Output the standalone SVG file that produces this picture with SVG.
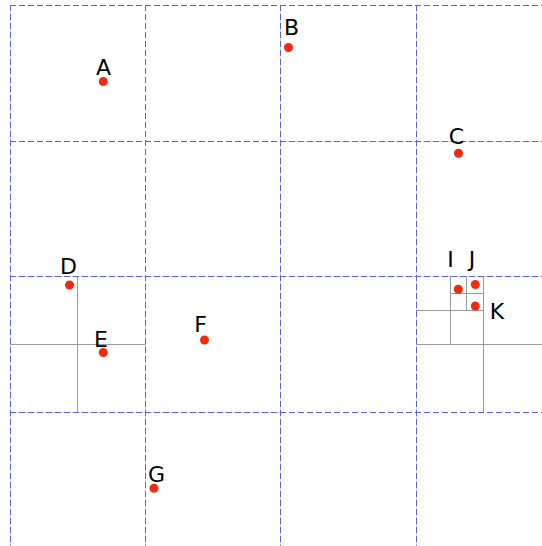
<svg xmlns="http://www.w3.org/2000/svg" width="542" height="546" viewBox="0 0 542 546">
<style>
.u{stroke:#d4d4d4;stroke-width:1;fill:none}
.q{stroke:#999;stroke-width:1;fill:none}
.g{stroke:#5a62dc;stroke-width:1;stroke-dasharray:6,3;fill:none}
.p{fill:#f02a10}
.t{font-family:"DejaVu Sans",sans-serif;font-size:22px;fill:#000;text-anchor:middle}
</style>
<rect width="542" height="546" fill="#fff"/>
<g id="quadtree">
<line class="u" x1="10.5" y1="5" x2="10.5" y2="546"/>
<line class="u" x1="280.5" y1="5" x2="280.5" y2="546"/>
<line class="u" x1="10" y1="276.5" x2="542" y2="276.5"/>
<line class="u" x1="416.5" y1="5" x2="416.5" y2="546"/>
<line class="u" x1="281" y1="141.5" x2="542" y2="141.5"/>
<line class="u" x1="145.5" y1="276" x2="145.5" y2="546"/>
<line class="u" x1="10" y1="412.5" x2="281" y2="412.5"/>
<line class="q" x1="77.5" y1="276" x2="77.5" y2="412"/>
<line class="q" x1="10" y1="344.5" x2="145.5" y2="344.5"/>
<line class="q" x1="483.5" y1="276" x2="483.5" y2="412"/>
<line class="q" x1="416" y1="344.5" x2="542" y2="344.5"/>
<line class="q" x1="450.5" y1="276" x2="450.5" y2="344"/>
<line class="q" x1="416" y1="310.5" x2="483.5" y2="310.5"/>
<line class="q" x1="466.5" y1="276" x2="466.5" y2="310"/>
<line class="q" x1="450" y1="293.5" x2="483.5" y2="293.5"/>
</g>
<g id="grid">
<line class="g" x1="10.5" y1="5" x2="10.5" y2="546"/>
<line class="g" x1="145.5" y1="5" x2="145.5" y2="546"/>
<line class="g" x1="280.5" y1="5" x2="280.5" y2="546"/>
<line class="g" x1="416.5" y1="5" x2="416.5" y2="546"/>
<line class="g" x1="10" y1="5.5" x2="542" y2="5.5"/>
<line class="g" x1="10" y1="141.5" x2="542" y2="141.5"/>
<line class="g" x1="10" y1="276.5" x2="542" y2="276.5"/>
<line class="g" x1="10" y1="412.5" x2="542" y2="412.5"/>
</g>
<g id="A"><circle class="p" cx="103.3" cy="81.5" r="4.5"/><text class="t" x="103.5" y="75">A</text></g>
<g id="B"><circle class="p" cx="288.5" cy="47.5" r="4.5"/><text class="t" x="291.5" y="35">B</text></g>
<g id="C"><circle class="p" cx="458.5" cy="153.3" r="4.5"/><text class="t" x="456.5" y="144">C</text></g>
<g id="D"><circle class="p" cx="69.5" cy="285" r="4.5"/><text class="t" x="68.5" y="274">D</text></g>
<g id="E"><circle class="p" cx="103.3" cy="352.5" r="4.5"/><text class="t" x="101" y="346.5">E</text></g>
<g id="F"><circle class="p" cx="204.5" cy="340" r="4.5"/><text class="t" x="200.5" y="331.5">F</text></g>
<g id="G"><circle class="p" cx="154" cy="488.3" r="4.5"/><text class="t" x="156.5" y="481.5">G</text></g>
<g id="I"><circle class="p" cx="458.3" cy="289.3" r="4.5"/><text class="t" x="450.5" y="267">I</text></g>
<g id="J"><circle class="p" cx="475.3" cy="284.5" r="4.5"/><text class="t" x="472" y="267">J</text></g>
<g id="K"><circle class="p" cx="475.3" cy="306" r="4.5"/><text class="t" x="497" y="319">K</text></g>
</svg>
